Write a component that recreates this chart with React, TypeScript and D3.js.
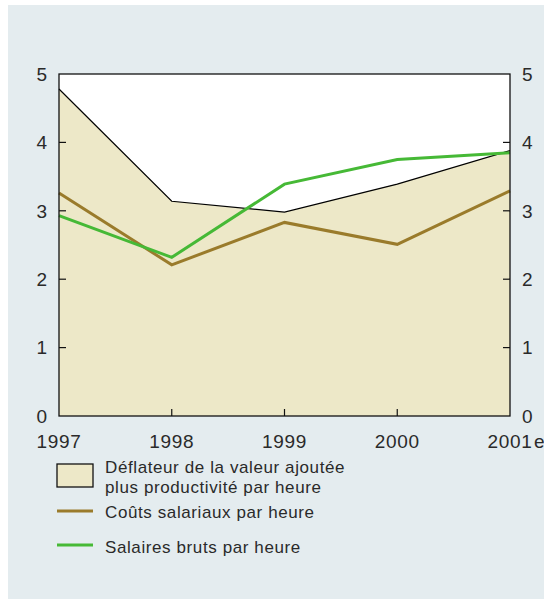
import React from "react";
import * as d3 from "d3";

const years = ["1997", "1998", "1999", "2000", "2001"];
const deflator = [4.78, 3.14, 2.98, 3.39, 3.88];
const laborCost = [3.26, 2.21, 2.83, 2.51, 3.29];
const grossWages = [2.93, 2.32, 3.39, 3.75, 3.85];
const yTicks = [0, 1, 2, 3, 4, 5];
const legendLabels = [
  ["Déflateur de la valeur ajoutée", "plus productivité par heure"],
  ["Coûts salariaux par heure"],
  ["Salaires bruts par heure"],
];

const W = 544;
const H = 605;
const left = 59;
const right = 510;
const top = 74;
const bottom = 416;
const FILL = "#ede8c8";
const BROWN = "#9a7b2b";
const GREEN = "#46b936";
const BG = "#e4ecef";
const FONT = "'Liberation Sans', Arial, sans-serif";
const TXT = "#2a2a2a";

export default function App() {
  const x = d3.scalePoint<string>().domain(years).range([left, right]);
  const y = d3.scaleLinear().domain([0, 5]).range([bottom, top]);
  const idx = years.map((_, i) => i);
  const area = d3
    .area<number>()
    .x((i) => x(years[i])!)
    .y0(y(0))
    .y1((i) => y(deflator[i]));
  const line = (vals: number[]) =>
    d3
      .line<number>()
      .x((i) => x(years[i])!)
      .y((i) => y(vals[i]))(idx)!;

  return (
    <svg
      width={W}
      height={H}
      style={{ position: "absolute", left: 0, top: 0 }}
      fontFamily={FONT}
    >
      <rect x={0} y={0} width={W} height={H} fill="#fff" />
      <rect x={8} y={5} width={W - 8} height={594} fill={BG} />
      <rect x={left} y={top} width={right - left} height={bottom - top} fill="#fff" />
      <path d={area(idx)!} fill={FILL} />
      <path d={line(deflator)} fill="none" stroke="#000" strokeWidth={1.2} />
      <path d={line(laborCost)} fill="none" stroke={BROWN} strokeWidth={3} />
      <path d={line(grossWages)} fill="none" stroke={GREEN} strokeWidth={3} />
      <rect
        x={left}
        y={top}
        width={right - left}
        height={bottom - top}
        fill="none"
        stroke="#111"
        strokeWidth={1.3}
      />
      {yTicks.map((t) => (
        <g key={t}>
          {t > 0 && t < 5 && (
            <>
              <line x1={left} x2={left + 7} y1={y(t)} y2={y(t)} stroke="#111" strokeWidth={1.2} />
              <line x1={right - 7} x2={right} y1={y(t)} y2={y(t)} stroke="#111" strokeWidth={1.2} />
            </>
          )}
          <text x={47} y={y(t)} dy="0.36em" textAnchor="end" fontSize={19} fill={TXT}>
            {t}
          </text>
          <text x={522} y={y(t)} dy="0.36em" textAnchor="start" fontSize={19} fill={TXT}>
            {t}
          </text>
        </g>
      ))}
      {years.map((yr, i) => (
        <g key={yr}>
          {i > 0 && i < years.length - 1 && (
            <line x1={x(yr)} x2={x(yr)} y1={bottom} y2={bottom - 7} stroke="#111" strokeWidth={1.2} />
          )}
          <text x={x(yr)} y={448} textAnchor="middle" fontSize={19} letterSpacing={0.7} fill={TXT}>
            {yr}
          </text>
          {i === years.length - 1 && (
            <text x={x(yr)! + 24} y={448} textAnchor="start" fontSize={19} fill={TXT}>
              e
            </text>
          )}
        </g>
      ))}
      <rect x={57} y={464} width={36} height={23} fill={FILL} stroke="#111" strokeWidth={1.3} />
      <line x1={57} x2={93} y1={511} y2={511} stroke={BROWN} strokeWidth={3} />
      <line x1={57} x2={93} y1={545} y2={545} stroke={GREEN} strokeWidth={3} />
      <g fontSize={17} letterSpacing={0.6} fill={TXT}>
        <text x={105} y={473}>{legendLabels[0][0]}</text>
        <text x={105} y={493}>{legendLabels[0][1]}</text>
        <text x={105} y={518}>{legendLabels[1][0]}</text>
        <text x={105} y={553}>{legendLabels[2][0]}</text>
      </g>
    </svg>
  );
}
